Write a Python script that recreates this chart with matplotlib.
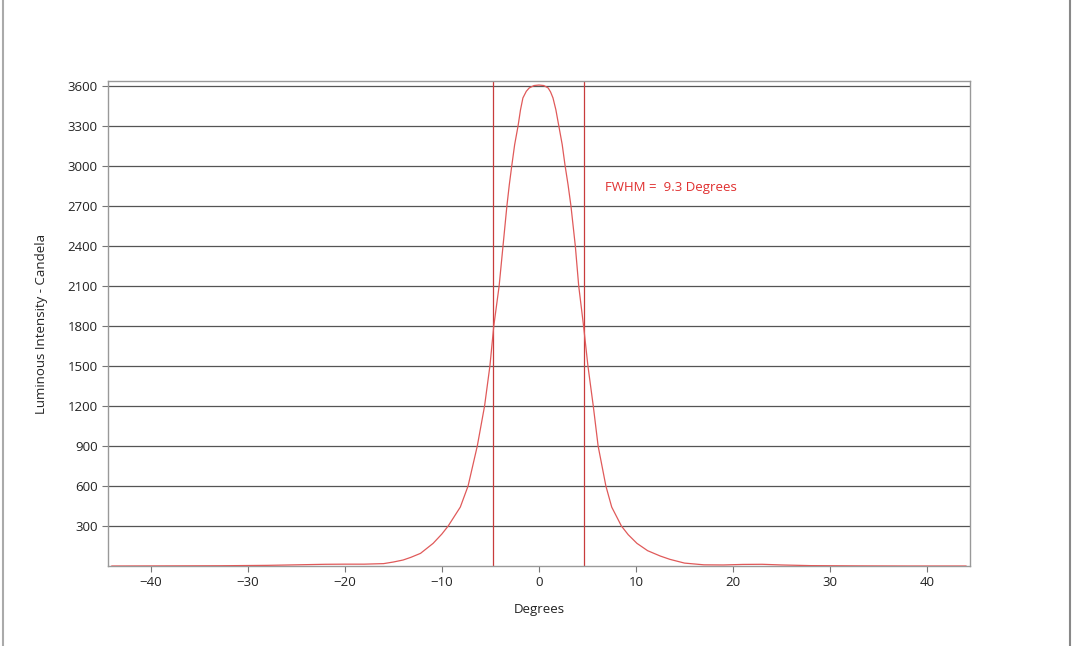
import matplotlib.pyplot as plt
from matplotlib.lines import Line2D

plt.rcParams["font.family"] = ["Open Sans", "DejaVu Sans"]

# beam profile (degrees, candela)
ANGLES = [-44, -38, -33, -28, -25, -22, -20, -18, -16, -15, -14, -13.2, -12.2,
          -10.9, -10.0, -9.35, -8.1, -7.3, -6.35, -5.6, -5.05, -4.65, -4.1, -3.7,
          -3.3, -3.05, -2.8, -2.5, -2.15, -1.9, -1.65, -1.3, -1.0, -0.5, 0,
          0.5, 0.95, 1.2, 1.45, 1.75, 2.05, 2.4, 2.7, 3.0, 3.3, 3.75, 4.1,
          4.6, 5.05, 5.6, 6.1, 6.9, 7.5, 8.5, 9.2,
          10.1, 11.2, 12.5, 13.5, 15, 17, 19, 21, 23, 25, 28, 33, 38, 44]
CANDELA = [0, 1, 2, 5, 9, 13, 14, 14, 18, 30, 45, 65, 95,
           170, 240, 300, 442, 600, 900, 1200, 1500, 1800, 2100, 2400,
           2700, 2860, 3000, 3160, 3300, 3420, 3510, 3560, 3585, 3603, 3607,
           3603, 3585, 3555, 3510, 3420, 3300, 3160, 3000, 2860, 2700, 2400, 2100,
           1800, 1500, 1200, 900, 600, 442, 300, 235,
           170, 115, 75, 50, 22, 9, 8, 12, 13, 8, 3, 1, 0, 0]

FWHM_LEFT = -4.7
FWHM_RIGHT = 4.6
FWHM_TEXT = "FWHM =  9.3 Degrees"
Y_TICKS = [300, 600, 900, 1200, 1500, 1800, 2100, 2400, 2700, 3000, 3300, 3600]
X_TICKS = [-40, -30, -20, -10, 0, 10, 20, 30, 40]

fig = plt.figure(figsize=(10.8, 6.46), dpi=100)
ax = fig.add_axes([0.1, 0.1238, 0.798, 0.7508])

for yv in Y_TICKS:
    ax.axhline(yv, color="#555555", linewidth=0.9, zorder=1)

ax.plot(ANGLES, CANDELA, color="#e05a5a", linewidth=0.9, zorder=3)
ax.axvline(FWHM_LEFT, color="#c83c3c", linewidth=0.9, zorder=2)
ax.axvline(FWHM_RIGHT, color="#c83c3c", linewidth=0.9, zorder=2)
ax.text(6.8, 2842, FWHM_TEXT, color="#e03030", fontsize=9.5, va="center", ha="left")

ax.set_xlim(-44.4, 44.4)
ax.set_ylim(0, 3637)
ax.set_xticks(X_TICKS)
ax.set_yticks(Y_TICKS)
ax.tick_params(colors="#777777", labelcolor="#222222", labelsize=9.5, length=4, width=0.8)
for side in ["left", "right", "top", "bottom"]:
    ax.spines[side].set_color("#999999")
    ax.spines[side].set_linewidth(1.0)

ax.set_xlabel("Degrees", fontsize=9.5, color="#222222", labelpad=10)
ax.set_ylabel("Luminous Intensity - Candela", fontsize=9.5, color="#222222", labelpad=14)

# light frame around the picture
fig.add_artist(Line2D([0.003, 0.003], [0, 1], color="#aaaaaa", linewidth=1.5, transform=fig.transFigure))
fig.add_artist(Line2D([0.991, 0.991], [0, 1], color="#888888", linewidth=1.5, transform=fig.transFigure))

fig.savefig("out.png", dpi=100, facecolor="white")
